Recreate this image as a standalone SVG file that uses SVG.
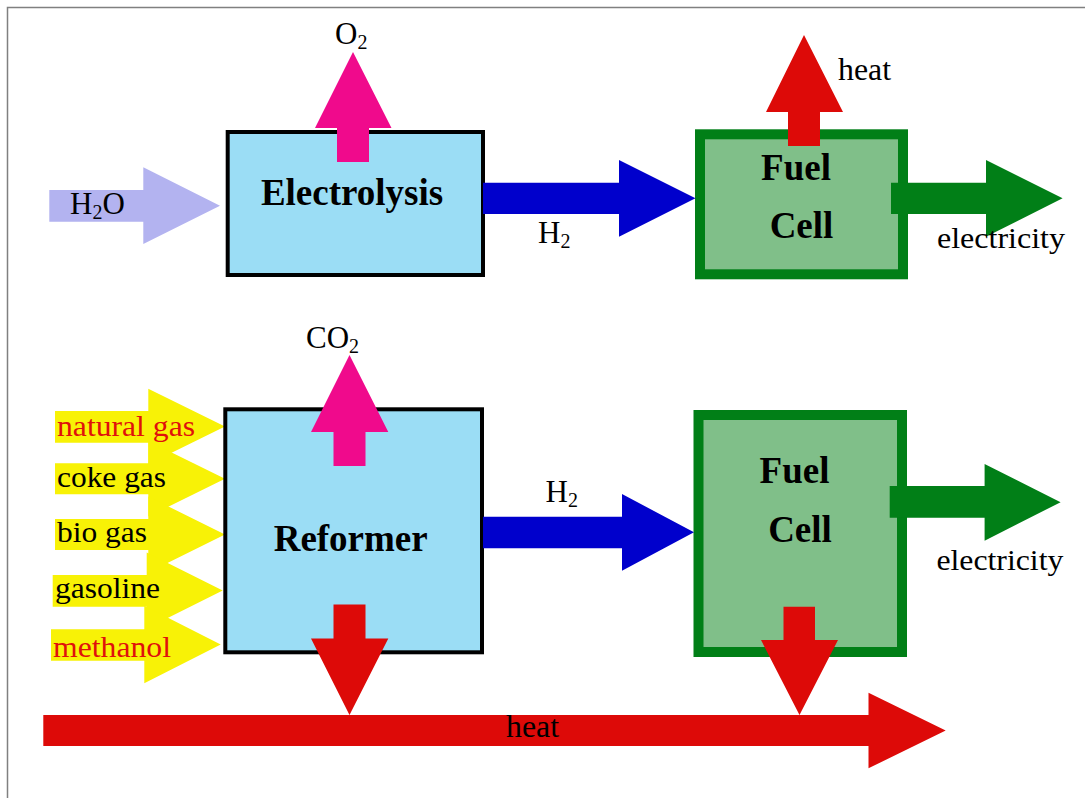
<svg xmlns="http://www.w3.org/2000/svg" width="1085" height="798" viewBox="0 0 1085 798">
<style>
.t{font-family:"Liberation Serif","Times New Roman",serif;font-size:31px;fill:#000}
.s{font-size:29px}
.b{font-family:"Liberation Serif","Times New Roman",serif;font-size:37px;font-weight:bold;fill:#000}
.sub{font-size:20px}
.red{fill:#E0100C}
.box{fill:#9BDDF5;stroke:#000;stroke-width:4}
.fc{fill:#80BF89;stroke:#017F17;stroke-width:10}
.yel{fill:#F8F206}
</style>
<rect x="7.5" y="7.5" width="1100" height="800" fill="#fff" stroke="#808080" stroke-width="1.5"/>

<g id="feeds">
<polygon class="yel" points="55,411 148.3,411 148.3,388.8 225,426.5 148.3,464.2 148.3,442.7 55,442.7"/>
<polygon class="yel" points="55,463.3 148.3,463.3 148.3,441 225,478.8 148.3,516.6 148.3,494.3 55,494.3"/>
<polygon class="yel" points="55,519 148.3,519 148.3,496.5 225,534.5 148.3,572.5 148.3,550 55,550"/>
<polygon class="yel" points="52.7,575 146.7,575 146.7,552.5 222.7,590.5 146.7,628.5 146.7,606.7 52.7,606.7"/>
<polygon class="yel" points="51,629.3 144.3,629.3 144.3,605.7 220.7,644.5 144.3,683.3 144.3,660.7 51,660.7"/>
<text class="t s red" x="57" y="436" textLength="138" lengthAdjust="spacingAndGlyphs">natural gas</text>
<text class="t s" x="57" y="487" textLength="109" lengthAdjust="spacingAndGlyphs">coke gas</text>
<text class="t s" x="57" y="542" textLength="90" lengthAdjust="spacingAndGlyphs">bio gas</text>
<text class="t s" x="55" y="598" textLength="105" lengthAdjust="spacingAndGlyphs">gasoline</text>
<text class="t s red" x="53" y="657" textLength="118" lengthAdjust="spacingAndGlyphs">methanol</text>
</g>

<g id="electrolysis">
<rect class="box" x="227.7" y="132" width="255.3" height="143"/>
<text class="b" x="352" y="205" text-anchor="middle">Electrolysis</text>
</g>

<g id="reformer">
<rect class="box" x="225.3" y="409.3" width="256.7" height="243"/>
<text class="b" x="350.7" y="551" text-anchor="middle">Reformer</text>
</g>

<g id="fuelcell1">
<rect class="fc" x="700" y="134.3" width="203" height="140"/>
<text class="b" x="796" y="180" text-anchor="middle">Fuel</text>
<text class="b" x="801.5" y="238" text-anchor="middle">Cell</text>
</g>

<g id="fuelcell2">
<rect class="fc" x="698.5" y="415" width="203.5" height="237"/>
<text class="b" x="794.5" y="483" text-anchor="middle">Fuel</text>
<text class="b" x="800" y="541.7" text-anchor="middle">Cell</text>
</g>

<g id="connectors">
<polygon fill="#B3B3F0" points="49.3,190 143.3,190 143.3,167.3 220,205.7 143.3,244 143.3,221.7 49.3,221.7"/>
<polygon fill="#F00A8C" points="337,162 369,162 369,128 391.5,128 353,52 315,128 337,128"/>
<polygon fill="#0000CC" points="483,182.7 619,182.7 619,160 695.5,198.3 619,236.7 619,214 483,214"/>
<polygon fill="#DD0A08" points="788,146 820,146 820,112 843,112 804,35 766,112 788,112"/>
<polygon fill="#017F17" points="891,182.7 986,182.7 986,160 1062.6,198.3 986,236.7 986,214 891,214"/>

<polygon fill="#F00A8C" points="333.5,466 365.5,466 365.5,432 388.3,432 349.5,355 311,432 333.5,432"/>
<polygon fill="#0000CC" points="483,516.7 622,516.7 622,494 694,532.3 622,570.7 622,548.3 483,548.3"/>
<polygon fill="#017F17" points="889.7,486 984.6,486 984.6,464 1060.6,502.2 984.6,540.7 984.6,517.7 889.7,517.7"/>
<polygon fill="#DD0A08" points="43.3,715 868.5,715 868.5,692.7 945.7,730.5 868.5,768.3 868.5,746 43.3,746"/>
<polygon fill="#DD0A08" points="333.5,604.5 365.5,604.5 365.5,638.5 388.3,638.5 349.5,715 311,638.5 333.5,638.5"/>
<polygon fill="#DD0A08" points="783.5,606.7 815,606.7 815,640 838,640 799.5,715 761,640 783.5,640"/>

<text class="t" x="70" y="214">H<tspan class="sub" dy="5">2</tspan><tspan dy="-5">O</tspan></text>
<text class="t" x="335" y="44">O<tspan class="sub" dy="5">2</tspan></text>
<text class="t" x="538" y="243">H<tspan class="sub" dy="5">2</tspan></text>
<text class="t" x="838" y="80" textLength="53" lengthAdjust="spacingAndGlyphs">heat</text>
<text class="t s" x="937" y="248" textLength="128" lengthAdjust="spacingAndGlyphs">electricity</text>
<text class="t" x="306" y="348">CO<tspan class="sub" dy="5">2</tspan></text>
<text class="t" x="545.6" y="501.7">H<tspan class="sub" dy="5">2</tspan></text>
<text class="t s" x="936.4" y="570" textLength="127" lengthAdjust="spacingAndGlyphs">electricity</text>
<text class="t" x="506" y="737" textLength="53" lengthAdjust="spacingAndGlyphs">heat</text>
</g>
</svg>
